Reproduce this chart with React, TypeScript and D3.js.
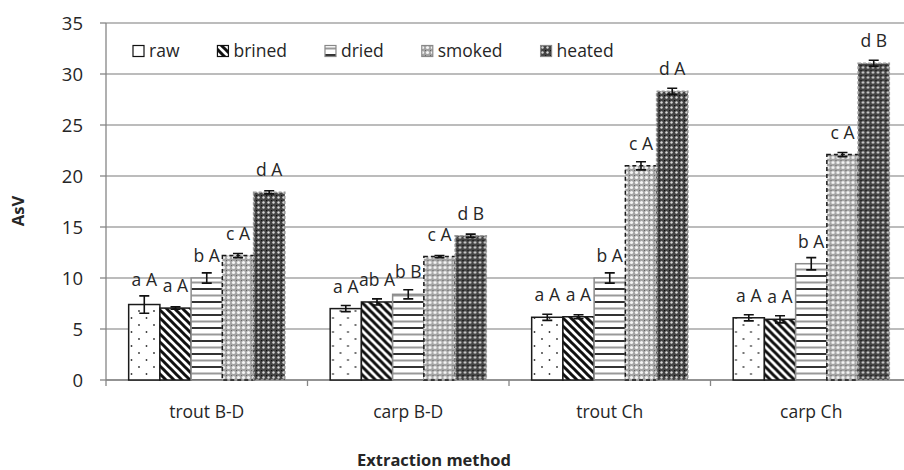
import React from "react";
import * as d3 from "d3";

const categories = ["trout B-D", "carp B-D", "trout Ch", "carp Ch"];
const series = ["raw", "brined", "dried", "smoked", "heated"];

// mean values per series, in category order
const raw = [7.4, 7.0, 6.15, 6.1];
const brined = [7.05, 7.65, 6.2, 5.95];
const dried = [10.0, 8.4, 10.0, 11.4];
const smoked = [12.2, 12.1, 21.0, 22.1];
const heated = [18.4, 14.15, 28.3, 31.05];

// error bar half widths
const rawErr = [0.85, 0.3, 0.3, 0.3];
const brinedErr = [0.12, 0.3, 0.2, 0.35];
const driedErr = [0.5, 0.45, 0.5, 0.6];
const smokedErr = [0.2, 0.1, 0.4, 0.2];
const heatedErr = [0.15, 0.15, 0.3, 0.3];

// significance letters
const rawLbl = ["a A", "a A", "a A", "a A"];
const brinedLbl = ["a A", "ab A", "a A", "a A"];
const driedLbl = ["b A", "b B", "b A", "b A"];
const smokedLbl = ["c A", "c A", "c A", "c A"];
const heatedLbl = ["d A", "d B", "d A", "d B"];

const yTicks = [0, 5, 10, 15, 20, 25, 30, 35];

const values = [raw, brined, dried, smoked, heated];
const errors = [rawErr, brinedErr, driedErr, smokedErr, heatedErr];
const labels = [rawLbl, brinedLbl, driedLbl, smokedLbl, heatedLbl];

const font = "'Open Sans', 'DejaVu Sans', sans-serif";
const fs = 17.5;
const textColor = "#262626";
const gridColor = "#a6a6a6";

const barStyle: Record<string, { stroke: string; dash?: string }> = {
  raw: { stroke: "#1a1a1a" },
  brined: { stroke: "#1a1a1a" },
  dried: { stroke: "#8c8c8c" },
  smoked: { stroke: "#1a1a1a", dash: "4,3" },
  heated: { stroke: "#9a9a9a", dash: "3,2" },
};

function measure(text: string, size: number) {
  const c = document.createElement("canvas").getContext("2d");
  if (!c) return text.length * size * 0.55;
  c.font = `${size}px 'Open Sans'`;
  return c.measureText(text).width;
}

function Patterns() {
  return (
    <defs>
      <pattern id="p-raw" width="15" height="14" patternUnits="userSpaceOnUse">
        <rect width="15" height="14" fill="#fff" />
        <circle cx="3" cy="3" r="0.9" fill="#333" />
        <circle cx="10.5" cy="10" r="0.9" fill="#333" />
      </pattern>
      <pattern id="p-brined" width="8" height="8" patternUnits="userSpaceOnUse">
        <rect width="8" height="8" fill="#fff" />
        <path d="M-2,-2 L10,10 M-2,6 L2,10 M6,-2 L10,2" stroke="#111" strokeWidth="3" />
      </pattern>
      <pattern id="p-dried" width="10" height="13" patternUnits="userSpaceOnUse">
        <rect width="10" height="13" fill="#fff" />
        <rect y="2" width="10" height="2" fill="#333" />
        <rect y="8.5" width="10" height="2" fill="#999" />
      </pattern>
      <pattern id="p-smoked" width="5" height="5" patternUnits="userSpaceOnUse">
        <rect width="5" height="5" fill="#a4a4a4" />
        <circle cx="2.5" cy="2.5" r="1.6" fill="#f4f4f4" />
        <rect x="0" y="0" width="1" height="1" fill="#666" />
      </pattern>
      <pattern id="p-heated" width="5" height="5" patternUnits="userSpaceOnUse">
        <rect width="5" height="5" fill="#444" />
        <circle cx="2.5" cy="2.5" r="1.2" fill="#d8d8d8" />
        <rect x="0" y="0" width="1.2" height="1.2" fill="#111" />
      </pattern>
    </defs>
  );
}

export default function App() {
  const width = 904;
  const height = 470;
  const left = 106;
  const right = 912;
  const top = 23;
  const bottom = 380;

  const y = d3.scaleLinear().domain([0, 35]).range([bottom, top]);
  const x0 = d3.scaleBand<string>().domain(categories).range([left, right]).paddingInner(0);
  const pad = x0.bandwidth() * 0.1125;
  const x1 = d3
    .scaleBand<string>()
    .domain(series)
    .range([pad, x0.bandwidth() - pad]);

  // legend layout
  let lx = 133;
  const legendItems = series.map((s) => {
    const item = { s, x: lx };
    lx += 20 + measure(s, fs) + 34;
    return item;
  });

  return (
    <svg
      width={width}
      height={height}
      style={{ position: "absolute", left: 0, top: 0, background: "#fff" }}
      fontFamily={font}
    >
      <Patterns />
      {/* gridlines */}
      {yTicks.map((t) => (
        <g key={t}>
          <line x1={left} x2={right} y1={y(t)} y2={y(t)} stroke={gridColor} strokeWidth={1.3} />
          <line x1={left - 6} x2={left} y1={y(t)} y2={y(t)} stroke="#868686" strokeWidth={1.3} />
          <text x={83} y={y(t)} dy="0.36em" textAnchor="end" fontSize={fs + 1} fill={textColor}>
            {t}
          </text>
        </g>
      ))}
      {/* axes */}
      <line x1={left} x2={left} y1={top} y2={bottom + 6} stroke="#868686" strokeWidth={1.3} />
      <line x1={left} x2={right} y1={bottom} y2={bottom} stroke="#868686" strokeWidth={1.3} />
      {categories.map((c) => (
        <line
          key={c}
          x1={(x0(c) ?? 0) + x0.bandwidth()}
          x2={(x0(c) ?? 0) + x0.bandwidth()}
          y1={bottom}
          y2={bottom + 6}
          stroke="#868686"
          strokeWidth={1.3}
        />
      ))}

      {/* bars */}
      {categories.map((c, ci) => (
        <g key={c} transform={`translate(${x0(c)},0)`}>
          {series.map((s, si) => {
            const v = values[si][ci];
            const e = errors[si][ci];
            const bx = x1(s) ?? 0;
            const bw = x1.bandwidth();
            const cx = bx + bw / 2;
            const st = barStyle[s];
            const errTop = y(v + e);
            const ly = Math.min(y(v) - 16, errTop - 10);
            return (
              <g key={s}>
                <rect
                  x={bx}
                  y={y(v)}
                  width={bw}
                  height={y(0) - y(v)}
                  fill={`url(#p-${s})`}
                  stroke={st.stroke}
                  strokeWidth={1.5}
                  strokeDasharray={st.dash}
                />
                <path
                  d={`M${cx - 5},${y(v + e)}H${cx + 5}M${cx},${y(v + e)}V${y(v - e)}M${cx - 5},${y(v - e)}H${cx + 5}`}
                  stroke="#111"
                  strokeWidth={1.6}
                  fill="none"
                />
                <text x={cx} y={ly} textAnchor="middle" fontSize={fs} fill={textColor}>
                  {labels[si][ci]}
                </text>
              </g>
            );
          })}
          <text
            x={x0.bandwidth() / 2}
            y={418}
            textAnchor="middle"
            fontSize={fs}
            fill={textColor}
          >
            {c}
          </text>
        </g>
      ))}

      {/* legend */}
      {legendItems.map(({ s, x }) => (
        <g key={s}>
          <rect
            x={x}
            y={45.5}
            width={11}
            height={11}
            fill={`url(#p-${s})`}
            stroke={s === "raw" || s === "brined" ? "#111" : "#888"}
            strokeWidth={1.2}
          />
          <text x={x + 16} y={56.5} fontSize={fs} fill={textColor}>
            {s}
          </text>
        </g>
      ))}

      {/* axis titles */}
      <text
        transform={`translate(24,211) rotate(-90)`}
        textAnchor="middle"
        fontSize={16.5}
        fontWeight="bold"
        fill={textColor}
      >
        AsV
      </text>
      <text x={434} y={466} textAnchor="middle" fontSize={16.5} fontWeight="bold" fill={textColor}>
        Extraction method
      </text>
    </svg>
  );
}
